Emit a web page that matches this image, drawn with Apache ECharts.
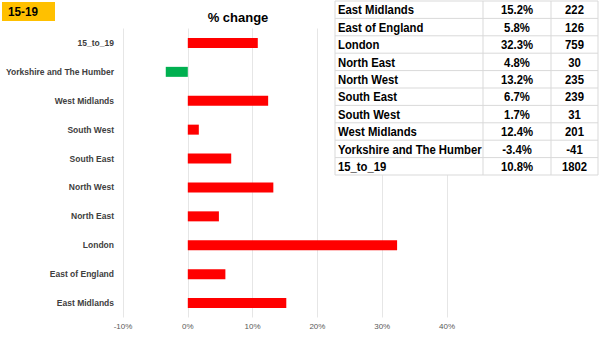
<!DOCTYPE html>
<html><head><meta charset="utf-8">
<script src="https://cdn.jsdelivr.net/npm/echarts@6/dist/echarts.min.js"></script>
<style>html,body{margin:0;padding:0;background:#fff}#c{width:600px;height:337px}</style>
</head><body><div id="c"></div>
<script>
const categories = ["East Midlands","East of England","London","North East","North West","South East","South West","West Midlands","Yorkshire and The Humber","15_to_19"];
const pctChange = [15.2, 5.8, 32.3, 4.8, 13.2, 6.7, 1.7, 12.4, -3.4, 10.8];
const counts = [222, 126, 759, 30, 235, 239, 31, 201, -41, 1802];
const xTicks = [-10, 0, 10, 20, 30, 40];

const chart = echarts.init(document.getElementById('c'), null, {renderer: 'svg'});

const font = '"Liberation Sans", Arial, sans-serif';
// table
const tX = [335, 483, 551, 598];
const tTop = 1, rowH = 17.4;
const tableEls = [];
const Z = 50;
const SX = 0.87;
tableEls.push({type:'rect', z:Z, shape:{x:tX[0], y:tTop, width:tX[3]-tX[0], height:rowH*categories.length}, style:{fill:'#fff', stroke:'#d9d9d9', lineWidth:1}});
for (let i = 1; i < categories.length; i++) {
  tableEls.push({type:'line', z:Z+1, shape:{x1:tX[0], y1:tTop+rowH*i, x2:tX[3], y2:tTop+rowH*i}, style:{stroke:'#d9d9d9', lineWidth:1}});
}
for (let j = 1; j < 3; j++) {
  tableEls.push({type:'line', z:Z+1, shape:{x1:tX[j], y1:tTop, x2:tX[j], y2:tTop+rowH*categories.length}, style:{stroke:'#d9d9d9', lineWidth:1}});
}
function cell(txt, x, y, align) {
  return {type:'text', z:Z+2, x:x, y:y, scaleX:SX,
    style:{text:txt, x:0, y:0, align:align, verticalAlign:'middle', font:'bold 13px '+font, fill:'#000'}};
}
categories.forEach((c, i) => {
  const cy = tTop + rowH*i + rowH/2 + 0.5;
  tableEls.push(cell(c, tX[0]+3, cy, 'left'));
  tableEls.push(cell(pctChange[i].toFixed(1)+'%', (tX[1]+tX[2])/2, cy, 'center'));
  tableEls.push(cell(String(counts[i]), (tX[2]+tX[3])/2, cy, 'center'));
});

chart.setOption({
  animation: false,
  backgroundColor: '#fff',
  title: {text: '% change', left: 233, top: 6, textAlign: 'center',
    textStyle: {fontSize: 13, fontWeight: 'bold', color: '#000', fontFamily: font}},
  grid: {left: 123, right: 153, top: 28.5, bottom: 19.5, outerBoundsMode: 'none', containLabel: false},
  xAxis: {type: 'value', min: xTicks[0], max: xTicks[xTicks.length-1], interval: 10,
    axisLine: {show: false}, axisTick: {show: false},
    splitLine: {show: true, lineStyle: {color: '#e6e6e6', width: 1}},
    axisLabel: {formatter: v => v + '%', fontSize: 8, color: '#595959', fontFamily: font, margin: 5}},
  yAxis: {type: 'category', data: categories,
    axisLine: {show: false}, axisTick: {show: false},
    axisLabel: {fontSize: 8.5, fontWeight: 'bold', color: '#404040', fontFamily: font, margin: 9}},
  series: [{type: 'bar', barWidth: 10,
    data: pctChange.map(v => ({value: v, itemStyle: {color: v < 0 ? '#00B050' : '#FF0000'}}))}],
  graphic: [
    {type:'rect', z: 10, shape:{x:2, y:2, width:53, height:19}, style:{fill:'#FFC000'}},
    {type:'text', z: 11, x: 8, y: 12, scaleX: 0.9, style:{text:'15-19', x:0, y:0, verticalAlign:'middle', font:'bold 13px '+font, fill:'#000'}},
    {type:'group', z: Z, children: tableEls}
  ]
});
</script></body></html>
